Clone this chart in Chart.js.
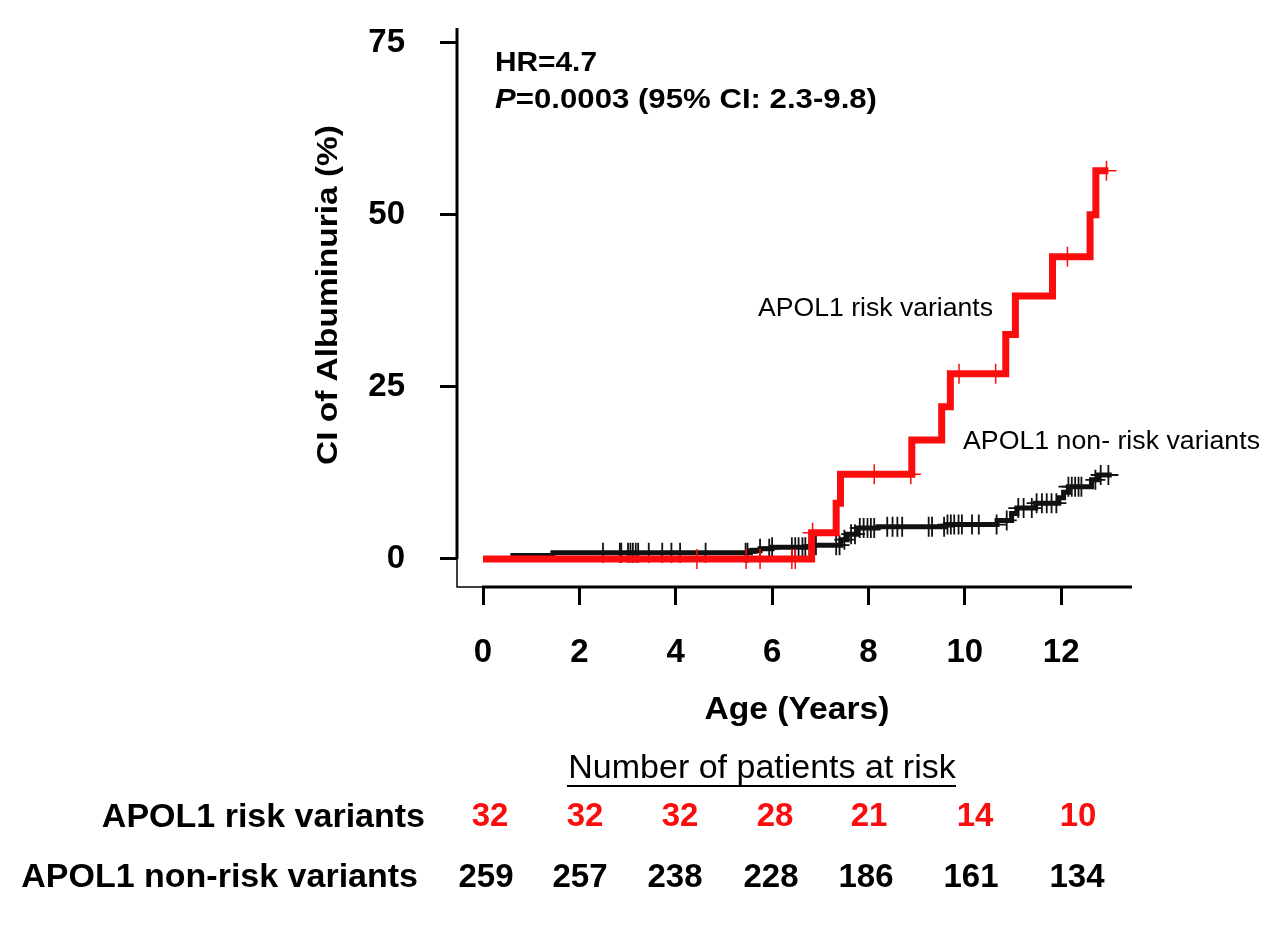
<!DOCTYPE html>
<html>
<head>
<meta charset="utf-8">
<script src="https://cdn.jsdelivr.net/npm/chart.js@4.4.1/dist/chart.umd.min.js"></script>
<style>
  html, body { margin: 0; padding: 0; background: #fff; }
</style>
</head>
<body>
<canvas id="km" width="1280" height="933"></canvas>
<script>
// Cumulative incidence step curves (years, %)
const riskTimes = [0, 6.82, 7.33, 7.42, 8.9, 9.52, 9.7, 10.85, 11.05, 11.82, 12.6, 12.72, 12.98];
const riskCI = [0, 3.8, 8.1, 12.3, 17.3, 22.1, 26.9, 32.6, 38.2, 43.9, 50.0, 56.4, 56.4];
const nonRiskTimes = [0, 0.62, 1.45, 5.55, 5.75, 6.0, 6.8, 7.43, 7.56, 7.76, 8.2, 9.6, 10.67, 10.97, 11.08, 11.47, 11.95, 12.05, 12.15, 12.63, 12.77, 13.05];
const nonRiskCI = [0, 0.5, 0.9, 1.2, 1.5, 1.7, 2.0, 2.8, 3.6, 4.5, 4.7, 5.0, 5.6, 6.6, 7.4, 8.1, 8.9, 9.7, 10.5, 11.5, 12.2, 12.2];

// censoring times
const riskCensor = [4.44, 5.46, 5.75, 6.41, 6.48, 6.84, 8.12, 8.88, 9.88, 10.64, 12.13, 12.94];
const nonRiskCensor = [2.49, 2.84, 2.87, 3.01, 3.06, 3.11, 3.17, 3.22, 3.44, 3.72, 3.91, 4.09, 4.62,
  5.45, 5.49, 5.75, 5.94, 6.0, 6.41, 6.48, 6.55, 6.63, 6.69, 6.85, 6.91, 7.33, 7.4, 7.5, 7.64, 7.72,
  7.82, 7.9, 7.98, 8.05, 8.12, 8.39, 8.5, 8.6, 8.7, 9.25, 9.32, 9.57, 9.64, 9.71, 9.78, 9.87, 9.94,
  10.15, 10.29, 10.66, 10.87, 11.11, 11.22, 11.39, 11.49, 11.6, 11.7, 11.8, 11.9, 12.15, 12.22,
  12.29, 12.36, 12.42, 12.71, 12.82, 12.98];

const xTicks = [0, 2, 4, 6, 8, 10, 12];
const yTicks = [0, 25, 50, 75];

// numbers at risk
const atRiskRisk = [32, 32, 32, 28, 21, 14, 10];
const atRiskNonRisk = [259, 257, 238, 228, 186, 161, 134];

const RED = '#fb0d0d';
const FONT = '"Liberation Sans", Arial, Helvetica, sans-serif';

function toPoints(times, vals) {
  return times.map((t, i) => ({ x: t, y: vals[i] }));
}

function levelAt(times, vals, t) {
  let v = vals[0];
  for (let i = 0; i < times.length; i++) {
    if (times[i] <= t) v = vals[i];
  }
  return v;
}

function censorPoints(censor, times, vals) {
  return censor.map(t => ({ x: t, y: levelAt(times, vals, t) }));
}

// draw text squeezed/stretched horizontally to a given width
function fitText(ctx, text, x, y, width, align) {
  const s = width / ctx.measureText(text).width;
  ctx.save();
  ctx.translate(x, y);
  ctx.scale(s, 1);
  ctx.textAlign = align;
  ctx.fillText(text, 0, 0);
  ctx.restore();
}

// axis lines and all the extra text
const decorations = {
  id: 'decorations',
  beforeDatasetsDraw(chart) {
    const { ctx, chartArea, scales } = chart;
    const x0 = scales.x.getPixelForValue(0);
    const y0 = scales.y.getPixelForValue(0);
    ctx.save();
    ctx.strokeStyle = '#000';
    ctx.lineWidth = 3;
    ctx.beginPath();
    ctx.moveTo(chartArea.left, chartArea.top - 2);
    ctx.lineTo(chartArea.left, y0);
    ctx.moveTo(x0 - 1, chartArea.bottom);
    ctx.lineTo(chartArea.right, chartArea.bottom);
    ctx.stroke();
    ctx.lineWidth = 1.5;
    ctx.beginPath();
    ctx.moveTo(chartArea.left, y0);
    ctx.lineTo(chartArea.left, chartArea.bottom);
    ctx.lineTo(x0, chartArea.bottom);
    ctx.stroke();
    ctx.restore();
  },
  afterDraw(chart) {
    const { ctx } = chart;
    ctx.save();
    ctx.fillStyle = '#000';
    ctx.textBaseline = 'alphabetic';

    // HR and P value
    ctx.font = 'bold 28px ' + FONT;
    fitText(ctx, 'HR=4.7', 495, 71, 102, 'left');
    const rest = '=0.0003 (95% CI: 2.3-9.8)';
    ctx.font = 'italic bold 28px ' + FONT;
    const pw = ctx.measureText('P').width;
    ctx.font = 'bold 28px ' + FONT;
    const s = 382 / (pw + ctx.measureText(rest).width);
    ctx.save();
    ctx.translate(495, 108);
    ctx.scale(s, 1);
    ctx.textAlign = 'left';
    ctx.font = 'italic bold 28px ' + FONT;
    ctx.fillText('P', 0, 0);
    ctx.font = 'bold 28px ' + FONT;
    ctx.fillText(rest, pw, 0);
    ctx.restore();

    // axis titles
    ctx.textBaseline = 'middle';
    ctx.font = 'bold 30px ' + FONT;
    ctx.save();
    ctx.translate(329, 295);
    ctx.rotate(-Math.PI / 2);
    fitText(ctx, 'CI of Albuminuria (%)', 0, 0, 340, 'center');
    ctx.restore();
    ctx.font = 'bold 31px ' + FONT;
    fitText(ctx, 'Age (Years)', 797, 710, 185, 'center');

    // curve labels
    ctx.font = '25px ' + FONT;
    fitText(ctx, 'APOL1 risk variants', 758, 309, 235, 'left');
    fitText(ctx, 'APOL1 non- risk variants', 963, 442, 297, 'left');

    // numbers at risk table
    ctx.textAlign = 'center';
    ctx.font = '34px ' + FONT;
    ctx.fillText('Number of patients at risk', 762, 769);
    ctx.lineWidth = 2;
    ctx.strokeStyle = '#000';
    ctx.beginPath();
    ctx.moveTo(567, 786);
    ctx.lineTo(956, 786);
    ctx.stroke();

    ctx.font = 'bold 34px ' + FONT;
    ctx.textAlign = 'right';
    ctx.fillText('APOL1 risk variants', 425, 818);
    ctx.fillText('APOL1 non-risk variants', 418, 878);

    const row1X = [490, 585, 680, 775, 869, 975, 1078];
    const row2X = [486, 580, 675, 771, 866, 971, 1077];
    ctx.textAlign = 'center';
    ctx.font = 'bold 33px ' + FONT;
    ctx.fillStyle = RED;
    atRiskRisk.forEach((n, i) => ctx.fillText(String(n), row1X[i], 817));
    ctx.fillStyle = '#000';
    atRiskNonRisk.forEach((n, i) => ctx.fillText(String(n), row2X[i], 878));
    ctx.restore();
  }
};

const fitAxis = size => scale => {
  if (scale.isHorizontal()) scale.height = size; else scale.width = size;
  scale.paddingTop = 0;
  scale.paddingBottom = 0;
  scale.paddingLeft = 0;
  scale.paddingRight = 0;
};

const ctx = document.getElementById('km').getContext('2d');
new Chart(ctx, {
  type: 'scatter',
  data: {
    datasets: [
      {
        label: 'risk censored',
        data: censorPoints(riskCensor, riskTimes, riskCI),
        pointStyle: 'cross',
        pointRadius: 10,
        borderColor: RED,
        borderWidth: 1.5,
        showLine: false
      },
      {
        label: 'APOL1 risk variants',
        data: toPoints(riskTimes, riskCI),
        showLine: true,
        stepped: 'before',
        borderColor: RED,
        borderWidth: 7,
        pointRadius: 0,
        fill: false
      },
      {
        label: 'non-risk censored',
        data: censorPoints(nonRiskCensor, nonRiskTimes, nonRiskCI),
        pointStyle: 'cross',
        pointRadius: 10,
        borderColor: '#111',
        borderWidth: 1.8,
        showLine: false
      },
      {
        label: 'APOL1 non-risk variants',
        data: toPoints(nonRiskTimes, nonRiskCI),
        showLine: true,
        stepped: 'before',
        borderColor: '#111',
        borderWidth: 5,
        pointRadius: 0,
        fill: false
      }
    ]
  },
  options: {
    responsive: false,
    animation: false,
    devicePixelRatio: 1,
    layout: { padding: { left: 257, top: 30, right: 148, bottom: 246 } },
    plugins: { legend: { display: false }, tooltip: { enabled: false } },
    scales: {
      x: {
        type: 'linear',
        min: -0.54,
        max: 13.47,
        afterBuildTicks: s => { s.ticks = xTicks.map(v => ({ value: v })); },
        afterFit: fitAxis(100),
        border: { display: false },
        grid: { drawOnChartArea: false, drawTicks: true, tickLength: 18, tickWidth: 3, tickColor: '#000' },
        ticks: { color: '#000', padding: 28, maxRotation: 0, autoSkip: false, font: { family: FONT, size: 33, weight: 'bold' } }
      },
      y: {
        type: 'linear',
        min: -4.07,
        max: 76.84,
        afterBuildTicks: s => { s.ticks = yTicks.map(v => ({ value: v })); },
        afterFit: fitAxis(200),
        border: { display: false },
        grid: { drawOnChartArea: false, drawTicks: true, tickLength: 17, tickWidth: 3, tickColor: '#000' },
        ticks: { color: '#000', padding: 35, autoSkip: false, font: { family: FONT, size: 33, weight: 'bold' } }
      }
    }
  },
  plugins: [decorations]
});
</script>
</body>
</html>
